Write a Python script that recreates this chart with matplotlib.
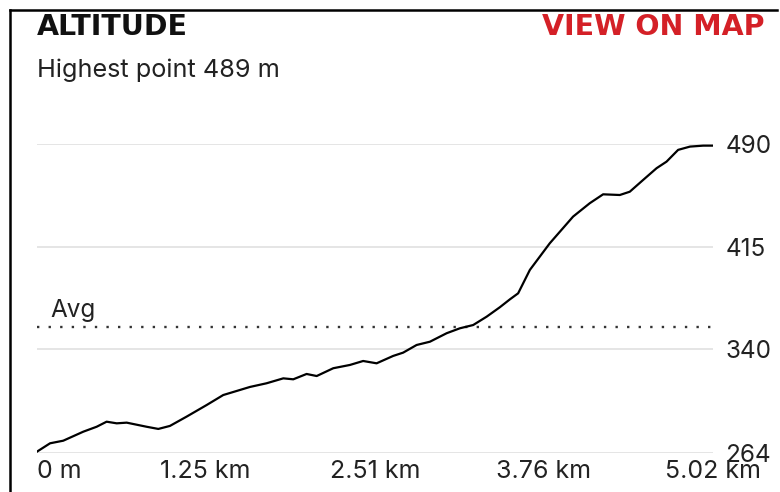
import numpy as np
import matplotlib
matplotlib.use("Agg")
import matplotlib.pyplot as plt
from matplotlib.lines import Line2D

# ---- data ----
dist_km = [0.000, 0.097, 0.195, 0.344, 0.443, 0.517, 0.592, 0.666, 0.814, 0.901,
           0.987, 1.111, 1.260, 1.383, 1.581, 1.705, 1.829, 1.903, 2.002, 2.077,
           2.200, 2.324, 2.422, 2.522, 2.645, 2.719, 2.819, 2.918, 3.042, 3.140,
           3.239, 3.339, 3.437, 3.512, 3.573, 3.660, 3.808, 3.981, 4.105, 4.204,
           4.328, 4.402, 4.501, 4.601, 4.675, 4.761, 4.849, 4.947, 5.020]
altitude_m = [265.0, 271.1, 273.0, 279.6, 283.2, 286.9, 285.7, 286.2, 283.2, 281.6,
              283.8, 290.6, 299.1, 306.4, 312.3, 315.0, 318.6, 317.9, 321.8, 320.3,
              326.0, 328.4, 331.3, 329.6, 335.0, 337.4, 343.0, 345.4, 351.6, 355.2,
              357.6, 363.7, 370.6, 376.4, 380.8, 397.9, 417.4, 436.9, 446.7, 453.2,
              452.7, 455.1, 463.7, 472.3, 477.1, 485.7, 488.1, 488.8, 488.8]
avg_alt = 356
y_ticks = [264, 340, 415, 490]
x_ticks = [0, 1.25, 2.51, 3.76, 5.02]
x_labels = ["0 m", "1.25 km", "2.51 km", "3.76 km", "5.02 km"]

TEXT = "#222222"
RED = "#d42027"
FONT = "Inter"

fig = plt.figure(figsize=(7.8, 4.92), dpi=100)
ax = fig.add_axes([37 / 780, 39 / 492, 676 / 780, 309 / 492])

for yv in y_ticks:
    ax.axhline(yv, color="#e3e3e3", lw=1.3, zorder=1)
ax.axhline(avg_alt, color="#333333", lw=1.7, linestyle=(0, (1, 3.9)), zorder=2)
ax.text(0.1, avg_alt + 3.5, "Avg", fontsize=17.5, color=TEXT, family=FONT,
        ha="left", va="bottom")

ax.plot(dist_km, altitude_m, color="black", lw=1.6, zorder=3)

ax.set_xlim(0, 5.02)
ax.set_ylim(264, 490)
for s in ax.spines.values():
    s.set_visible(False)

ax.yaxis.tick_right()
ax.set_yticks(y_ticks)
ax.set_yticklabels([str(v) for v in y_ticks], fontsize=17.5, color=TEXT, family=FONT)
ax.tick_params(axis="y", length=0, pad=9)

ax.set_xticks(x_ticks)
ax.set_xticklabels(x_labels, fontsize=18, color=TEXT, family=FONT)
ax.tick_params(axis="x", length=0, pad=5)
ax.get_xticklabels()[0].set_ha("left")

fig.text(37 / 780, 1 - 27 / 492, "ALTITUDE", fontsize=20.5, fontweight="black",
         color="#111111", family="DejaVu Sans", ha="left", va="center")
fig.text(764 / 780, 1 - 27 / 492, "VIEW ON MAP", fontsize=20.5, fontweight="black",
         color=RED, family="DejaVu Sans", ha="right", va="center")
fig.text(37 / 780, 1 - 70 / 492, "Highest point 489 m", fontsize=18.2,
         color=TEXT, family=FONT, ha="left", va="center")

# frame edges visible in the screenshot
fig.add_artist(Line2D([10 / 780, 777 / 780], [1 - 10 / 492, 1 - 10 / 492],
                      color="black", lw=1.8, transform=fig.transFigure))
fig.add_artist(Line2D([10 / 780, 10 / 780], [1 - 10 / 492, 0],
                      color="black", lw=1.8, transform=fig.transFigure))

fig.savefig("out.png", dpi=100)
